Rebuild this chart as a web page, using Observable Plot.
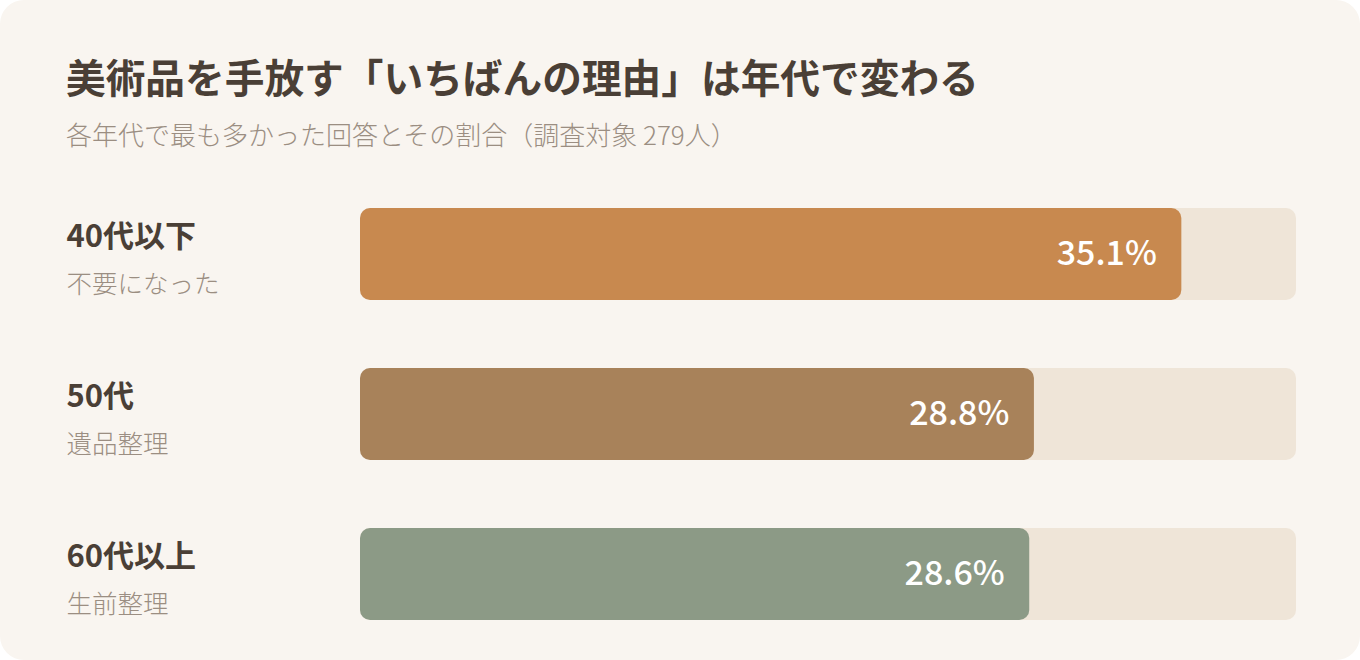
<!DOCTYPE html>
<html>
<head>
<meta charset="utf-8">
<script src="https://cdn.jsdelivr.net/npm/d3@7"></script>
<script src="https://cdn.jsdelivr.net/npm/@observablehq/plot@0.6"></script>
<style>
  body { margin: 0; background: #ffffff; }
  #card { position: relative; width: 1360px; height: 660px; background: #f9f5f0; border-radius: 24px; overflow: hidden; font-family: "Noto Sans CJK JP", "Noto Sans", sans-serif; }
  #title { position: absolute; left: 66px; top: 52px; font-size: 39.7px; font-weight: 700; color: #4a3f36; line-height: 48px; white-space: nowrap; }
  #sub { position: absolute; left: 66px; top: 118px; font-size: 26px; font-weight: 300; color: #9b8e82; line-height: 32px; white-space: nowrap; }
  #chart { position: absolute; left: 0; top: 180px; }
  #chart svg { background: transparent; font-family: "Noto Sans CJK JP", "Noto Sans", sans-serif; }
</style>
</head>
<body>
<div id="card">
  <div id="title">美術品を手放す「いちばんの理由」は年代で変わる</div>
  <div id="sub">各年代で最も多かった回答とその割合（調査対象 279人）</div>
  <div id="chart"></div>
</div>
<script>
const ageGroups = ["40代以下", "50代", "60代以上"];
const reasons = ["不要になった", "遺品整理", "生前整理"];
const shares = [35.1, 28.8, 28.6];
const barColors = ["#c8894f", "#a8825a", "#8c9a86"];
const scaleMax = 40;

const rows = ageGroups.map((age, i) => ({ age, reason: reasons[i], value: shares[i] }));

const chart = Plot.plot({
  width: 1360,
  height: 460,
  marginLeft: 360,
  marginRight: 64,
  marginTop: 0,
  marginBottom: 0,
  style: { background: "transparent", overflow: "visible" },
  x: { domain: [0, scaleMax], axis: null },
  y: { domain: ageGroups, range: [28, 440], paddingInner: 0.425, paddingOuter: 0, axis: null },
  color: { domain: ageGroups, range: barColors },
  marks: [
    Plot.barX(rows, { x: () => scaleMax, y: "age", fill: "#efe5d8", rx: 10 }),
    Plot.barX(rows, { x: "value", y: "age", fill: "age", rx: 10 }),
    Plot.text(rows, { x: "value", y: "age", text: d => d.value.toFixed(1) + "%", textAnchor: "end", dx: -25, dy: 0, fill: "#ffffff", fontSize: 34, fontWeight: 500 }),
    Plot.text(rows, { y: "age", text: "age", frameAnchor: "left", textAnchor: "start", dx: -294, dy: -17, fill: "#4a3f36", fontSize: 31, fontWeight: 700 }),
    Plot.text(rows, { y: "age", text: "reason", frameAnchor: "left", textAnchor: "start", dx: -294, dy: 30, fill: "#9b8e82", fontSize: 25.5, fontWeight: 300 })
  ]
});
document.getElementById("chart").appendChild(chart);
</script>
</body>
</html>
